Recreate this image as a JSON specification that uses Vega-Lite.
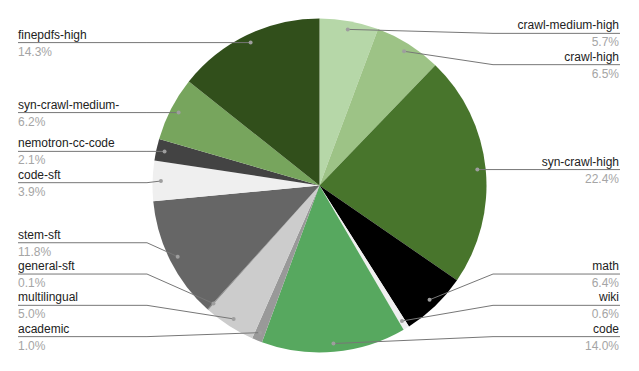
{
  "$schema": "https://vega.github.io/schema/vega-lite/v6.json",
  "width": 639,
  "height": 371,
  "autosize": {"type": "fit", "contains": "padding"},
  "padding": 0,
  "background": "white",
  "config": {"view": {"stroke": null}, "font": "Liberation Sans"},
  "data": {
    "values": [
      {"i": 1, "name": "crawl-medium-high", "value": 5.7},
      {"i": 2, "name": "crawl-high", "value": 6.5},
      {"i": 3, "name": "syn-crawl-high", "value": 22.4},
      {"i": 4, "name": "math", "value": 6.4},
      {"i": 5, "name": "wiki", "value": 0.6},
      {"i": 6, "name": "code", "value": 14.0},
      {"i": 7, "name": "academic", "value": 1.0},
      {"i": 8, "name": "multilingual", "value": 5.0},
      {"i": 9, "name": "general-sft", "value": 0.1},
      {"i": 10, "name": "stem-sft", "value": 11.8},
      {"i": 11, "name": "code-sft", "value": 3.9},
      {"i": 12, "name": "nemotron-cc-code", "value": 2.1},
      {"i": 13, "name": "syn-crawl-medium-", "value": 6.2},
      {"i": 14, "name": "finepdfs-high", "value": 14.3}
    ]
  },
  "transform": [
    {"window": [{"op": "sum", "field": "value", "as": "cum"}], "sort": [{"field": "i"}], "frame": [null, 0]},
    {"calculate": "(datum.cum - datum.value/2)/100*2*PI", "as": "mid"},
    {"calculate": "0.95*sin(datum.mid)", "as": "ax"},
    {"calculate": "0.95*cos(datum.mid)", "as": "ay"},
    {"calculate": "datum.ax < 0 ? 'L' : 'R'", "as": "side"},
    {"window": [{"op": "row_number", "as": "k1"}], "groupby": ["side"], "sort": [{"field": "ay", "order": "descending"}]},
    {"calculate": "datum.ay + 0.1874*(datum.k1-1)", "as": "u"},
    {"window": [{"op": "min", "field": "u", "as": "m1"}], "groupby": ["side"], "sort": [{"field": "ay", "order": "descending"}], "frame": [null, 0]},
    {"calculate": "min(0.911, datum.m1) - 0.1874*(datum.k1-1)", "as": "p1"},
    {"window": [{"op": "row_number", "as": "k2"}], "groupby": ["side"], "sort": [{"field": "ay", "order": "ascending"}]},
    {"calculate": "datum.p1 - 0.1874*(datum.k2-1)", "as": "w"},
    {"window": [{"op": "max", "field": "w", "as": "m2"}], "groupby": ["side"], "sort": [{"field": "ay", "order": "ascending"}], "frame": [null, 0]},
    {"calculate": "max(-0.905, datum.m2) + 0.1874*(datum.k2-1)", "as": "ly"},
    {"calculate": "datum.side === 'L' ? -1.033 : 1.039", "as": "bx"},
    {"calculate": "datum.side === 'L' ? -1.8054 : 1.7994", "as": "ex"},
    {"calculate": "datum.side === 'L' ? -1.8054 : 1.7934", "as": "tx"},
    {"calculate": "format(datum.value, '.1f') + '%'", "as": "pct"}
  ],
  "layer": [
    {
      "mark": {"type": "arc", "outerRadius": 167, "stroke": null},
      "encoding": {
        "theta": {"field": "value", "type": "quantitative", "stack": true},
        "order": {"field": "i", "type": "quantitative", "sort": "ascending"},
        "color": {
          "field": "name",
          "type": "nominal",
          "legend": null,
          "scale": {
            "domain": ["crawl-medium-high", "crawl-high", "syn-crawl-high", "math", "wiki", "code", "academic", "multilingual", "general-sft", "stem-sft", "code-sft", "nemotron-cc-code", "syn-crawl-medium-", "finepdfs-high"],
            "range": ["#b6d7a8", "#9dc386", "#48752c", "#000000", "#efefef", "#57a85f", "#999999", "#cccccc", "#888888", "#666666", "#efefef", "#434343", "#77a55d", "#314f1b"]
          }
        }
      }
    },
    {
      "mark": {"type": "rule", "color": "#777777", "strokeWidth": 1},
      "encoding": {
        "x": {"field": "ax", "type": "quantitative", "scale": {"domain": [-1.9132, 1.9132], "nice": false, "zero": false}, "axis": null},
        "y": {"field": "ay", "type": "quantitative", "scale": {"domain": [-1.1108, 1.1108], "nice": false, "zero": false}, "axis": null},
        "x2": {"field": "bx"},
        "y2": {"field": "ly"}
      }
    },
    {
      "mark": {"type": "rule", "color": "#777777", "strokeWidth": 1},
      "encoding": {
        "x": {"field": "bx", "type": "quantitative", "scale": {"domain": [-1.9132, 1.9132], "nice": false, "zero": false}, "axis": null},
        "y": {"field": "ly", "type": "quantitative", "scale": {"domain": [-1.1108, 1.1108], "nice": false, "zero": false}, "axis": null},
        "x2": {"field": "ex"}
      }
    },
    {
      "mark": {"type": "point", "filled": true, "color": "#9e9e9e", "size": 16, "opacity": 1},
      "encoding": {
        "x": {"field": "ax", "type": "quantitative", "scale": {"domain": [-1.9132, 1.9132], "nice": false, "zero": false}, "axis": null},
        "y": {"field": "ay", "type": "quantitative", "scale": {"domain": [-1.1108, 1.1108], "nice": false, "zero": false}, "axis": null}
      }
    },
    {
      "transform": [{"filter": "datum.side === 'L'"}],
      "mark": {"type": "text", "align": "left", "baseline": "alphabetic", "dy": -4, "fontSize": 12, "color": "#222222"},
      "encoding": {
        "x": {"field": "tx", "type": "quantitative", "scale": {"domain": [-1.9132, 1.9132], "nice": false, "zero": false}, "axis": null},
        "y": {"field": "ly", "type": "quantitative", "scale": {"domain": [-1.1108, 1.1108], "nice": false, "zero": false}, "axis": null},
        "text": {"field": "name"}
      }
    },
    {
      "transform": [{"filter": "datum.side === 'R'"}],
      "mark": {"type": "text", "align": "right", "baseline": "alphabetic", "dy": -4, "fontSize": 12, "color": "#222222"},
      "encoding": {
        "x": {"field": "tx", "type": "quantitative", "scale": {"domain": [-1.9132, 1.9132], "nice": false, "zero": false}, "axis": null},
        "y": {"field": "ly", "type": "quantitative", "scale": {"domain": [-1.1108, 1.1108], "nice": false, "zero": false}, "axis": null},
        "text": {"field": "name"}
      }
    },
    {
      "transform": [{"filter": "datum.side === 'L'"}],
      "mark": {"type": "text", "align": "left", "baseline": "alphabetic", "dy": 13, "fontSize": 12, "color": "#a5a5a5"},
      "encoding": {
        "x": {"field": "tx", "type": "quantitative", "scale": {"domain": [-1.9132, 1.9132], "nice": false, "zero": false}, "axis": null},
        "y": {"field": "ly", "type": "quantitative", "scale": {"domain": [-1.1108, 1.1108], "nice": false, "zero": false}, "axis": null},
        "text": {"field": "pct"}
      }
    },
    {
      "transform": [{"filter": "datum.side === 'R'"}],
      "mark": {"type": "text", "align": "right", "baseline": "alphabetic", "dy": 13, "fontSize": 12, "color": "#a5a5a5"},
      "encoding": {
        "x": {"field": "tx", "type": "quantitative", "scale": {"domain": [-1.9132, 1.9132], "nice": false, "zero": false}, "axis": null},
        "y": {"field": "ly", "type": "quantitative", "scale": {"domain": [-1.1108, 1.1108], "nice": false, "zero": false}, "axis": null},
        "text": {"field": "pct"}
      }
    }
  ]
}
